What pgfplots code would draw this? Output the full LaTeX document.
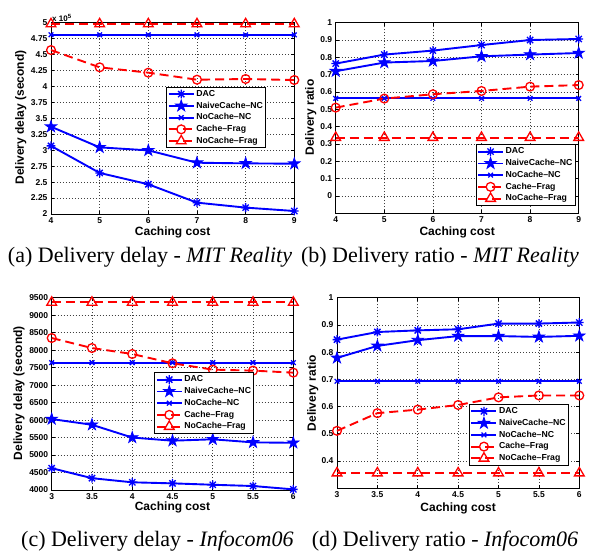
\documentclass[border=0pt]{standalone}
\usepackage{fontspec}
\setmainfont{Liberation Serif}
\setsansfont{Liberation Sans}
\usepackage{pgfplots}
\pgfplotsset{compat=1.18}

\pgfdeclareplotmark{ast8}{%
  \pgfpathmoveto{\pgfqpoint{-\pgfplotmarksize}{0pt}}%
  \pgfpathlineto{\pgfqpoint{\pgfplotmarksize}{0pt}}%
  \pgfpathmoveto{\pgfqpoint{0pt}{-\pgfplotmarksize}}%
  \pgfpathlineto{\pgfqpoint{0pt}{\pgfplotmarksize}}%
  \pgfpathmoveto{\pgfqpoint{-.7071\pgfplotmarksize}{-.7071\pgfplotmarksize}}%
  \pgfpathlineto{\pgfqpoint{.7071\pgfplotmarksize}{.7071\pgfplotmarksize}}%
  \pgfpathmoveto{\pgfqpoint{-.7071\pgfplotmarksize}{.7071\pgfplotmarksize}}%
  \pgfpathlineto{\pgfqpoint{.7071\pgfplotmarksize}{-.7071\pgfplotmarksize}}%
  \pgfusepathqstroke}
\pgfdeclareplotmark{pstar}{%
  \pgfpathmoveto{\pgfpointpolar{90}{\pgfplotmarksize}}%
  \pgfpathlineto{\pgfpointpolar{126}{.382\pgfplotmarksize}}%
  \pgfpathlineto{\pgfpointpolar{162}{\pgfplotmarksize}}%
  \pgfpathlineto{\pgfpointpolar{198}{.382\pgfplotmarksize}}%
  \pgfpathlineto{\pgfpointpolar{234}{\pgfplotmarksize}}%
  \pgfpathlineto{\pgfpointpolar{270}{.382\pgfplotmarksize}}%
  \pgfpathlineto{\pgfpointpolar{306}{\pgfplotmarksize}}%
  \pgfpathlineto{\pgfpointpolar{342}{.382\pgfplotmarksize}}%
  \pgfpathlineto{\pgfpointpolar{18}{\pgfplotmarksize}}%
  \pgfpathlineto{\pgfpointpolar{54}{.382\pgfplotmarksize}}%
  \pgfpathclose
  \pgfusepathqfillstroke}

\pgfplotsset{
  myax/.style={
    scale only axis,
    anchor=south west,
    clip=false,
    axis line style={black, line width=0.9pt},
    grid=major,
    major grid style={black!75, line width=0.7pt, dash pattern=on 0.8pt off 2.2pt},
    tick style={black, line width=0.7pt},
    major tick length=3pt,
    tick align=inside,
    /pgf/number format/assume math mode=true,
    /pgf/number format/1000 sep={},
    ticklabel style={font=\sffamily\bfseries\fontsize{8.5}{10}\selectfont},
    label style={font=\sffamily\bfseries\fontsize{12}{14}\selectfont},
    xlabel={Caching cost},
    legend cell align=left,
    legend style={draw=black, line width=0.9pt, fill=white, inner sep=1pt,
      anchor=north west, font=\sffamily\bfseries\fontsize{8.7}{10}\selectfont,
      nodes={inner sep=1.6pt, text height=6.5pt, text depth=2pt},
      row sep=0pt, column sep=0pt},
    legend image code/.code={\draw[mark repeat=2,mark phase=2] plot coordinates {(0pt,0pt) (12.5pt,0pt) (25pt,0pt)};},
  },
  dac/.style={blue, line width=1.9pt, mark=ast8, mark size=4.4pt, mark options={solid, line width=1.3pt}},
  naive/.style={blue, line width=1.9pt, mark=pstar, mark size=6pt, mark options={solid, fill=blue, line width=0.8pt}},
  nocnc/.style={blue, line width=1.9pt, mark=x, mark size=3.3pt, mark options={solid, line width=1.3pt}},
  cfrag/.style={red, line width=1.9pt, dash pattern=on 9pt off 5pt, mark=o, mark size=4.4pt, mark options={solid, line width=1.3pt}},
  ncfrag/.style={red, line width=1.9pt, dash pattern=on 9pt off 5pt, mark=triangle, mark size=5.6pt, mark options={solid, line width=1.3pt}},
}

\begin{document}
\begin{tikzpicture}[x=1pt,y=1pt]
\path (0,0) rectangle (589,552);

% (a)
\begin{axis}[myax, at={(51pt,338pt)}, width=243.3pt, height=191.3pt,
  xmin=4, xmax=9, ymin=2, ymax=5, xtick={4,5,...,9},
  ytick={2,2.25,2.5,2.75,3,3.25,3.5,3.75,4,4.25,4.5,4.75,5},
  ylabel={Delivery delay (second)},
  ylabel style={at={(axis description cs:-0.1245,0.504)}, anchor=center},
  xlabel style={at={(axis description cs:0.5,-0.098)}, anchor=center},
  legend style={at={(axis description cs:0.474,0.665)}}]
\addplot[dac] coordinates {(4,3.068) (5,2.644) (6,2.466) (7,2.178) (8,2.100) (9,2.047)};
\addplot[naive] coordinates {(4,3.369) (5,3.045) (6,2.998) (7,2.804) (8,2.794) (9,2.789)};
\addplot[nocnc] coordinates {(4,4.81) (5,4.81) (6,4.81) (7,4.81) (8,4.81) (9,4.81)};
\addplot[cfrag] coordinates {(4,4.571) (5,4.300) (6,4.216) (7,4.106) (8,4.117) (9,4.101)};
\addplot[ncfrag] coordinates {(4,4.98) (5,4.98) (6,4.98) (7,4.98) (8,4.98) (9,4.98)};
\legend{DAC,NaiveCache--NC,NoCache--NC,Cache--Frag,NoCache--Frag}
\node[anchor=south west, inner sep=1pt, font=\sffamily\bfseries\fontsize{8}{9}\selectfont] at (axis description cs:0,1) {x 10\textsuperscript{5}};
\end{axis}

% (b)
\begin{axis}[myax, at={(335.7pt,338.7pt)}, width=243pt, height=190.6pt,
  xmin=4, xmax=9, ymin=-0.1, ymax=1, xtick={4,5,...,9},
  ytick={0,0.1,0.2,0.3,0.4,0.5,0.6,0.7,0.8,0.9,1},
  ylabel={Delivery ratio},
  ylabel style={at={(axis description cs:-0.103,0.503)}, anchor=center},
  xlabel style={at={(axis description cs:0.5,-0.1)}, anchor=center},
  legend style={at={(axis description cs:0.576,0.362)}}]
\addplot[dac] coordinates {(4,0.764) (5,0.816) (6,0.839) (7,0.871) (8,0.900) (9,0.906)};
\addplot[naive] coordinates {(4,0.720) (5,0.770) (6,0.779) (7,0.806) (8,0.816) (9,0.825)};
\addplot[nocnc] coordinates {(4,0.563) (5,0.563) (6,0.563) (7,0.563) (8,0.563) (9,0.563)};
\addplot[cfrag] coordinates {(4,0.510) (5,0.562) (6,0.587) (7,0.606) (8,0.631) (9,0.640)};
\addplot[ncfrag] coordinates {(4,0.337) (5,0.337) (6,0.337) (7,0.337) (8,0.337) (9,0.337)};
\legend{DAC,NaiveCache--NC,NoCache--NC,Cache--Frag,NoCache--Frag}
\end{axis}

% (c)
\begin{axis}[myax, at={(51.7pt,62pt)}, width=241.6pt, height=192.3pt,
  xmin=3, xmax=6, ymin=4000, ymax=9500, xtick={3,3.5,4,4.5,5,5.5,6},
  ytick={4000,4500,5000,5500,6000,6500,7000,7500,8000,8500,9000,9500},
  ylabel={Delivery delay (second)},
  ylabel style={at={(axis description cs:-0.135,0.503)}, anchor=center},
  xlabel style={at={(axis description cs:0.5,-0.092)}, anchor=center},
  legend style={at={(axis description cs:0.425,0.612)}}]
\addplot[dac] coordinates {(3,4624) (3.5,4338) (4,4220) (4.5,4190) (5,4150) (5.5,4114) (6,4018)};
\addplot[naive] coordinates {(3,6029) (3.5,5866) (4,5500) (4.5,5410) (5,5450) (5.5,5362) (6,5350)};
\addplot[nocnc] coordinates {(3,7643) (3.5,7643) (4,7643) (4.5,7643) (5,7643) (5.5,7643) (6,7643)};
\addplot[cfrag] coordinates {(3,8347) (3.5,8060) (4,7890) (4.5,7624) (5,7443) (5.5,7414) (6,7357)};
\addplot[ncfrag] coordinates {(3,9366) (3.5,9366) (4,9366) (4.5,9366) (5,9366) (5.5,9366) (6,9366)};
\legend{DAC,NaiveCache--NC,NoCache--NC,Cache--Frag,NoCache--Frag}
\end{axis}

% (d)
\begin{axis}[myax, at={(337pt,63.7pt)}, width=242.3pt, height=190.6pt,
  xmin=3, xmax=6, ymin=0.3, ymax=1, xtick={3,3.5,4,4.5,5,5.5,6},
  ytick={0.4,0.5,0.6,0.7,0.8,0.9,1},
  ylabel={Delivery ratio},
  ylabel style={at={(axis description cs:-0.100,0.5)}, anchor=center},
  xlabel style={at={(axis description cs:0.5,-0.105)}, anchor=center},
  legend style={at={(axis description cs:0.545,0.442)}}]
\addplot[dac] coordinates {(3,0.846) (3.5,0.874) (4,0.880) (4.5,0.884) (5,0.905) (5.5,0.905) (6,0.909)};
\addplot[naive] coordinates {(3,0.779) (3.5,0.823) (4,0.844) (4.5,0.859) (5,0.859) (5.5,0.856) (6,0.860)};
\addplot[nocnc] coordinates {(3,0.693) (3.5,0.693) (4,0.693) (4.5,0.693) (5,0.693) (5.5,0.693) (6,0.693)};
\addplot[cfrag] coordinates {(3,0.511) (3.5,0.576) (4,0.589) (4.5,0.606) (5,0.634) (5.5,0.641) (6,0.641)};
\addplot[ncfrag] coordinates {(3,0.356) (3.5,0.356) (4,0.356) (4.5,0.356) (5,0.356) (5.5,0.356) (6,0.356)};
\legend{DAC,NaiveCache--NC,NoCache--NC,Cache--Frag,NoCache--Frag}
\end{axis}

\node[anchor=base, font=\fontsize{22}{26}\selectfont, inner sep=0pt] at (150,289) {(a) Delivery delay - \textit{MIT Reality}};
\node[anchor=base, font=\fontsize{22}{26}\selectfont, inner sep=0pt] at (440,289) {(b) Delivery ratio - \textit{MIT Reality}};
\node[anchor=base, font=\fontsize{22}{26}\selectfont, inner sep=0pt] at (157.4,6) {(c) Delivery delay - \textit{Infocom06}};
\node[anchor=base, font=\fontsize{22}{26}\selectfont, inner sep=0pt] at (445,6) {(d) Delivery ratio - \textit{Infocom06}};
\end{tikzpicture}
\end{document}
